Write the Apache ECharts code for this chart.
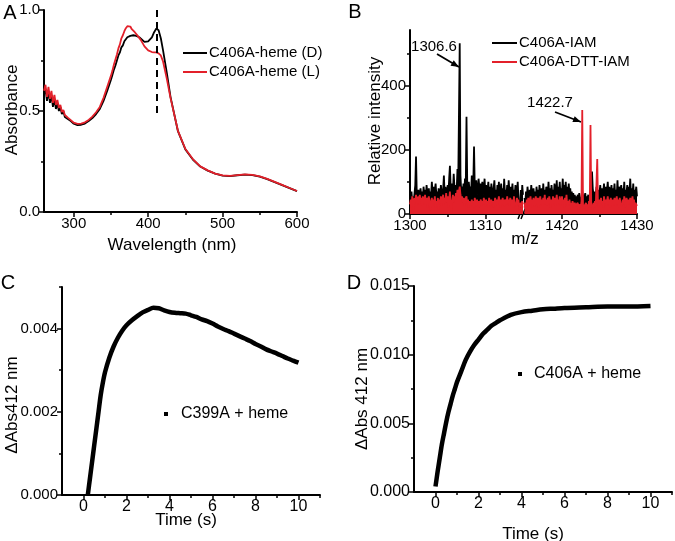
<!DOCTYPE html>
<html><head><meta charset="utf-8">
<script src="https://cdn.jsdelivr.net/npm/echarts@6/dist/echarts.min.js"></script>
<style>html,body{margin:0;padding:0;background:#fff}#c{width:675px;height:541px}</style>
</head><body><div id="c"></div>
<script>
// ---------- Panel A: absorbance spectra ----------
const wavelength = [260,262,264,266,268,270,272,274,276,278,280,282,284,286,288,290,292,294,296,298,300,
  305,310,315,320,325,330,335,340,345,350,
  352,354,356,358,360,362,364,366,368,370,372,374,376,378,380,382,384,386,388,390,
  395,400,405,408,411,414,417,420,425,430,
  440,450,460,470,480,490,500,510,520,530,540,550,560,570,580,590,600];
const absD = [0.58,0.61,0.55,0.60,0.54,0.58,0.52,0.56,0.51,0.54,0.50,0.52,0.485,0.50,0.47,0.475,0.46,0.455,0.45,0.443,0.437,
  0.430,0.432,0.438,0.450,0.465,0.485,0.51,0.55,0.60,0.655,
  0.68,0.705,0.725,0.75,0.775,0.79,0.815,0.825,0.845,0.855,0.865,0.86,0.872,0.866,0.875,0.868,0.872,0.863,0.865,0.858,
  0.842,0.845,0.865,0.89,0.908,0.90,0.86,0.80,0.69,0.57,
  0.40,0.31,0.26,0.225,0.205,0.19,0.18,0.178,0.182,0.185,0.183,0.175,0.163,0.148,0.133,0.118,0.103];
const absL = [0.60,0.63,0.57,0.62,0.56,0.60,0.54,0.58,0.53,0.555,0.515,0.53,0.495,0.505,0.48,0.482,0.467,0.46,0.455,0.448,0.442,
  0.436,0.438,0.444,0.456,0.472,0.494,0.52,0.565,0.62,0.675,
  0.70,0.73,0.755,0.78,0.81,0.83,0.86,0.875,0.895,0.91,0.92,0.912,0.918,0.905,0.90,0.89,0.885,0.872,0.866,0.852,
  0.82,0.80,0.792,0.79,0.79,0.785,0.775,0.745,0.66,0.565,
  0.402,0.312,0.262,0.226,0.206,0.19,0.181,0.179,0.183,0.186,0.184,0.176,0.164,0.149,0.134,0.119,0.104];
const seriesNamesA = ['C406A-heme (D)', 'C406A-heme (L)'];
const dashedMarker = {wavelength: 412, from: 0.49, to: 1.0};

// ---------- Panel B: mass spectra (two m/z segments, step 0.1) ----------
const mzSeg1Start = 1300.0, mzSeg2Start = 1415.0, mzStep = 0.1;
const iamSeg1 = [60,45,70,35,55,40,65,90,179,60, 50,75,40,65,80,55,70,45,85,60, 75,50,90,65,55,80,45,70,60,100,
  65,85,50,75,95,60,70,45,80,65, 55,90,70,50,75,120,60,85,55,70, 90,65,110,150,80,60,95,70,125,85,
  65,90,75,140,95,100,532,120,70,85, 60,95,70,110,80,303,90,65,100,75, 85,60,120,70,95,210,80,65,105,75,
  60,110,85,55,95,70,100,60,80,110, 65,90,55,75,100,60,85,50,95,70, 55,80,105,60,75,50,90,65,100,55,
  70,95,60,80,50,110,65,75,55,90, 60,105,70,50,85,65,95,55,75,60, 90,50,70,100,45,30,20,75,40,90, 60];
const dttSeg1 = [30,45,20,55,35,15,50,40,60,25, 45,55,30,60,40,50,25,55,45,35, 60,30,50,20,45,55,35,10,40,50,
  25,45,35,55,20,40,30,50,15,45, 35,55,25,45,60,30,50,40,65,35, 55,20,45,70,30,5,40,60,35,55,
  45,65,50,75,55,70,85,60,45,55, 35,50,25,45,40,55,30,45,20,40, 35,25,45,30,40,20,50,35,25,45,
  30,40,20,35,45,25,40,30,50,35, 25,45,30,40,20,50,35,25,45,30, 40,20,35,50,25,45,30,40,55,35,
  20,45,30,50,35,25,45,40,30,55, 35,45,25,50,40,30,45,20,55,35, 40,25,50,30,45,15,10,35,20,40, 30];
const iamSeg2 = [50,30,70,45,85,60,40,75,55,90, 65,45,80,55,70,40,85,60,75,50, 90,65,55,80,45,95,60,75,50,85,
  70,55,100,60,80,45,90,65,75,55, 95,70,60,105,50,85,65,100,55,80, 70,110,60,90,75,100,55,85,65,95,
  60,80,50,70,45,65,40,60,35,55, 45,60,40,65,50,55,40,70,45,60, 50,65,40,55,45,60,35,50,70,90,
  132,80,60,45,70,55,85,60,50,75, 65,90,55,80,45,70,95,60,85,50, 75,100,60,85,55,70,90,50,80,65,
  95,55,75,60,105,50,85,65,70,90, 55,80,60,100,45,75,65,90,50,85, 70,110,55,80,60,95,50,75,65,85, 55];
const dttSeg2 = [20,35,15,45,30,50,25,40,55,30, 45,20,50,35,25,55,40,30,50,20, 40,55,30,45,25,50,35,60,30,45,
  25,50,35,55,40,20,45,30,55,35, 50,25,40,60,30,45,35,55,25,40, 55,30,45,20,50,35,60,25,40,30,
  45,25,35,15,40,30,20,35,25,30, 20,35,15,30,25,20,40,324,30,15, 25,20,35,10,30,20,40,25,277,20,
  30,15,35,20,40,25,30,171,20,35, 45,25,50,30,40,20,55,35,45,25, 40,55,30,45,20,50,35,25,45,30,
  50,25,40,55,30,45,20,50,35,40, 25,45,30,55,35,20,50,40,30,45, 35,50,25,40,55,30,45,20,35,30, 25];
const seriesNamesB = ['C406A-IAM', 'C406A-DTT-IAM'];
const peakLabels = ['1306.6', '1422.7'];

// ---------- Panel C ----------
const timeC = [0.2,0.3,0.4,0.5,0.6,0.7,0.8,0.9,1.0,1.2,1.4,1.6,1.8,2.0,2.25,2.5,2.75,3.0,3.25,3.5,3.75,4.0,4.25,4.5,4.75,
  5.0,5.25,5.5,5.75,6.0,6.25,6.5,6.75,7.0,7.25,7.5,7.75,8.0,8.25,8.5,8.75,9.0,9.25,9.5,9.75,10.0];
const dAbsC = [0.0000,0.0004,0.0008,0.0012,0.0016,0.0020,0.0024,0.0027,0.00295,0.0033,0.00357,0.00378,0.00395,0.00408,0.0042,0.0043,0.00439,0.00445,0.0045,0.00449,0.00444,0.0044,0.00438,0.00437,0.00436,
  0.00432,0.00428,0.00422,0.00418,0.00412,0.00405,0.00399,0.00394,0.00388,0.00382,0.00376,0.0037,0.00363,0.00357,0.0035,0.00345,0.0034,0.00334,0.00328,0.00323,0.00318];
const legendC = 'C399A + heme';

// ---------- Panel D ----------
const timeD = [0,0.1,0.2,0.3,0.4,0.5,0.6,0.7,0.8,0.9,1.0,1.2,1.4,1.6,1.8,2.0,2.2,2.4,2.6,2.8,3.0,3.5,4.0,4.5,5.0,5.5,6.0,7.0,8.0,9.0,10.0];
const dAbsD = [0.0004,0.0015,0.0025,0.0035,0.0043,0.0051,0.0058,0.0064,0.0070,0.0075,0.0080,0.0088,0.0096,0.0102,0.0107,0.0111,0.0115,0.0118,0.0121,0.0123,0.0125,0.0129,0.0131,0.0132,0.0133,0.01335,0.0134,0.01345,0.0135,0.0135,0.01355];
const legendD = 'C406A + heme';

// ---------- build ----------
const FONT = '"Liberation Sans", Arial, sans-serif';
const RED = '#e3202a';
const chart = echarts.init(document.getElementById('c'), null, {renderer: 'canvas'});
const grids = [], xAxes = [], yAxes = [], series = [];

function mkAxis(kind, gridIndex, o) {
  const minor = !!o.minor;
  const a = {
    type: 'value', gridIndex: gridIndex, min: o.min, max: o.max,
    position: kind === 'x' ? 'bottom' : 'left',
    show: o.show !== false,
    axisLine: {show: !minor, onZero: false, lineStyle: {color: '#000', width: 2}},
    axisTick: {show: true, inside: false, length: minor ? 3 : 5, lineStyle: {color: '#000', width: 1.5}, customValues: o.ticks},
    axisLabel: {show: !minor, color: '#000', fontSize: o.fs || 15, fontFamily: FONT, margin: 4,
      customValues: o.labels || o.ticks, formatter: o.fmt || (v => String(v))},
    splitLine: {show: false}
  };
  if (kind === 'x') { xAxes.push(a); return xAxes.length - 1; }
  yAxes.push(a); return yAxes.length - 1;
}
function panel(g, xo, yo, xminor, yminor) {
  const gi = grids.length; grids.push(Object.assign({containLabel: false}, g));
  const xi = mkAxis('x', gi, xo);
  const yi = mkAxis('y', gi, yo);
  if (xminor) mkAxis('x', gi, {min: xo.min, max: xo.max, ticks: xminor, minor: true});
  if (yminor) mkAxis('y', gi, {min: yo.min, max: yo.max, ticks: yminor, minor: true});
  return {xi, yi};
}
const f1 = v => v.toFixed(1), f3 = v => v.toFixed(3);

// Panel A
const pA = panel({left: 44, top: 10, width: 253, height: 202},
  {min: 260, max: 600, ticks: [300, 400, 500, 600]},
  {min: 0, max: 1, ticks: [0, 0.5, 1.0], fmt: f1}, [350, 450, 550], [0.25, 0.75]);
series.push({type: 'line', name: seriesNamesA[0], xAxisIndex: pA.xi, yAxisIndex: pA.yi, symbol: 'none',
  lineStyle: {color: '#000', width: 1.8}, data: wavelength.map((w, i) => [w, absD[i]]),
  markLine: {silent: true, symbol: 'none', label: {show: false}, lineStyle: {color: '#000', type: [7, 5], width: 2},
    data: [[{coord: [dashedMarker.wavelength, dashedMarker.from]}, {coord: [dashedMarker.wavelength, dashedMarker.to]}]]}});
series.push({type: 'line', name: seriesNamesA[1], xAxisIndex: pA.xi, yAxisIndex: pA.yi, symbol: 'none',
  lineStyle: {color: RED, width: 1.8}, data: wavelength.map((w, i) => [w, absL[i]])});

// Panel B (two segments)
const pB1 = panel({left: 410, top: 30, width: 113, height: 184},
  {min: 1300, max: 1315, ticks: [1300, 1310]},
  {min: 0, max: 573, ticks: [0, 200, 400]}, [1305], [100, 300, 500]);
const pB2 = panel({left: 524.5, top: 30, width: 112.5, height: 184},
  {min: 1415, max: 1430, ticks: [1420, 1430]},
  {min: 0, max: 573, ticks: [0, 200, 400], show: false}, [1425], null);
function mzPairs(start, vals) { return vals.map((v, i) => [Math.round((start + i * mzStep) * 10) / 10, v]); }
[[pB1, mzSeg1Start, iamSeg1, dttSeg1], [pB2, mzSeg2Start, iamSeg2, dttSeg2]].forEach(([p, s, blk, red]) => {
  series.push({type: 'line', name: seriesNamesB[0], xAxisIndex: p.xi, yAxisIndex: p.yi, symbol: 'none',
    lineStyle: {color: '#000', width: 1.8}, areaStyle: {color: '#000', opacity: 1}, data: mzPairs(s, blk)});
  series.push({type: 'line', name: seriesNamesB[1], xAxisIndex: p.xi, yAxisIndex: p.yi, symbol: 'none',
    lineStyle: {color: RED, width: 1.8}, areaStyle: {color: RED, opacity: 1}, data: mzPairs(s, red)});
});

// Panel C
const pC = panel({left: 62, top: 287, width: 258, height: 208},
  {min: -1, max: 11, ticks: [0, 2, 4, 6, 8, 10], fs: 16},
  {min: 0, max: 0.005, ticks: [0, 0.002, 0.004], fmt: f3}, [1, 3, 5, 7, 9, 11], [0.001, 0.003, 0.005]);
series.push({type: 'line', name: legendC, xAxisIndex: pC.xi, yAxisIndex: pC.yi, symbol: 'none', smooth: 0.3,
  lineStyle: {color: '#000', width: 4.5}, data: timeC.map((t, i) => [t, dAbsC[i]])});

// Panel D
const pD = panel({left: 414, top: 286, width: 258, height: 206},
  {min: -1, max: 11, ticks: [0, 2, 4, 6, 8, 10], fs: 16},
  {min: 0, max: 0.015, ticks: [0, 0.005, 0.010, 0.015], fmt: f3, fs: 16}, [1, 3, 5, 7, 9, 11], [0.0025, 0.0075, 0.0125]);
series.push({type: 'line', name: legendD, xAxisIndex: pD.xi, yAxisIndex: pD.yi, symbol: 'none', smooth: 0.3,
  lineStyle: {color: '#000', width: 4.5}, data: timeD.map((t, i) => [t, dAbsD[i]])});

// ---------- annotations ----------
const G = [];
function txt(t, x, y, size, opts) {
  opts = opts || {};
  G.push({type: 'text', x: x, y: y, rotation: opts.rot || 0, silent: true,
    style: {text: t, x: 0, y: 0, fill: '#000', font: size + 'px ' + FONT, align: opts.align || 'center', verticalAlign: 'middle'}});
}
function seg(x1, y1, x2, y2, color, w) {
  G.push({type: 'line', silent: true, shape: {x1, y1, x2, y2}, style: {stroke: color, lineWidth: w}});
}
function arrow(x1, y1, x2, y2) {
  seg(x1, y1, x2, y2, '#000', 1.8);
  const dx = x2 - x1, dy = y2 - y1, L = Math.hypot(dx, dy), ux = dx / L, uy = dy / L;
  const bx = x2 - 8 * ux, by = y2 - 8 * uy;
  G.push({type: 'polygon', silent: true, shape: {points: [[x2, y2], [bx - 3.2 * uy, by + 3.2 * ux], [bx + 3.2 * uy, by - 3.2 * ux]]}, style: {fill: '#000'}});
}
// panel letters
txt('A', 10, 13, 20); txt('B', 355, 12, 20); txt('C', 8, 283, 20); txt('D', 354, 283, 20);
// axis titles
txt('Absorbance', 12, 110, 17, {rot: Math.PI / 2});
txt('Wavelength (nm)', 172, 245, 17);
txt('Relative intensity', 375, 121, 17, {rot: Math.PI / 2});
txt('m/z', 525, 239, 17);
txt('\u0394Abs412 nm', 12, 405, 17, {rot: Math.PI / 2});
txt('Time (s)', 186, 520, 17);
txt('\u0394Abs 412 nm', 362, 399, 17, {rot: Math.PI / 2});
txt('Time (s)', 533, 534, 17);
// legend A
seg(183, 53, 207, 53, '#000', 2); txt(seriesNamesA[0], 209, 53, 15, {align: 'left'});
seg(183, 72, 207, 72, RED, 2); txt(seriesNamesA[1], 209, 72, 15, {align: 'left'});
// legend B
seg(492, 43, 517, 43, '#000', 2); txt(seriesNamesB[0], 519, 43, 15, {align: 'left'});
seg(492, 62, 517, 62, RED, 2); txt(seriesNamesB[1], 519, 62, 15, {align: 'left'});
// peak labels B
txt(peakLabels[0], 434, 47, 15); arrow(437, 54, 459, 67);
txt(peakLabels[1], 550, 103, 15); arrow(555, 112, 581, 122);
// axis break marks
seg(518, 219, 522, 209, '#000', 1.5); seg(521, 219, 525, 209, '#000', 1.5);
// legends C, D
G.push({type: 'rect', silent: true, shape: {x: 164, y: 412, width: 4, height: 4}, style: {fill: '#000'}});
txt(legendC, 181, 414, 16, {align: 'left'});
G.push({type: 'rect', silent: true, shape: {x: 518, y: 372, width: 4, height: 4}, style: {fill: '#000'}});
txt(legendD, 534, 374, 16, {align: 'left'});

chart.setOption({
  animation: false,
  backgroundColor: '#fff',
  textStyle: {fontFamily: FONT},
  grid: grids, xAxis: xAxes, yAxis: yAxes, series: series, graphic: G
});
</script></body></html>
